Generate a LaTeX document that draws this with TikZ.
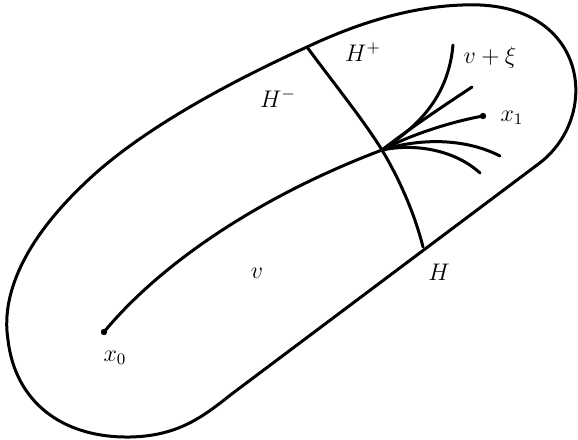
\documentclass[tikz,border=0pt]{standalone}
\begin{document}
\begin{tikzpicture}[x=0.5pt,y=-0.5pt,
  curve/.style={line width=1.5pt,line cap=round,line join=round},
  lbl/.style={inner sep=0pt,font=\fontsize{11.5}{14}\selectfont},
  pt/.style={circle,fill=black,inner sep=0pt,minimum size=3.2pt}]
\useasboundingbox (0,0) rectangle (578,439);
% outer region
\draw[curve] (233,393) -- (537,165)
  .. controls (600,120) and (590,10) .. (480,5)
  .. controls (420,3) and (360,22) .. (307,47)
  .. controls (230,82) and (140,130) .. (85,183)
  .. controls (30,235) and (0,290) .. (8,340)
  .. controls (15,400) and (60,438) .. (130,437)
  .. controls (180,436) and (205,415) .. cycle;
% points
\node[pt] (x0) at (104,332) {};
\node[pt] (x1) at (483,116) {};
\coordinate (J) at (382,150);
\coordinate (Ht) at (307,47);
\coordinate (Hb) at (423,247);
% path v
\draw[curve] (x0.center) .. controls (155,270) and (250,200) .. (J);
% hypersurface H
\draw[curve] (Ht) .. controls (335,85) and (362,118) .. (J)
  .. controls (400,180) and (415,215) .. (Hb);
% fan of curves
\draw[curve] (J) .. controls (415,128) and (448,100) .. (453,45);
\draw[curve] (J) .. controls (410,128) and (445,105) .. (472,87);
\draw[curve] (J) .. controls (410,135) and (450,122) .. (x1.center);
\draw[curve] (J) .. controls (420,138) and (465,138) .. (500,156);
\draw[curve] (J) .. controls (415,143) and (455,150) .. (480,173);
% labels
\node[lbl] (lHp) at (363,52) {$H^+$};
\node[lbl] (lHm) at (278,98) {$H^-$};
\node[lbl] (lvx) at (490,57) {$v+\xi$};
\node[lbl] (lx1) at (512,118) {$x_1$};
\node[lbl] (lv) at (257,273) {$v$};
\node[lbl] (lH) at (439,272) {$H$};
\node[lbl] (lx0) at (115,358) {$x_0$};
\end{tikzpicture}
\end{document}
